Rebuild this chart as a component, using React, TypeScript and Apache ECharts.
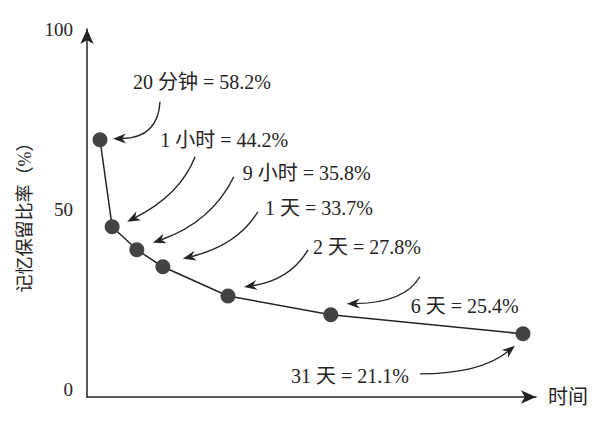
import { useEffect, useRef } from 'react'
import * as echarts from 'echarts'

const timeLabels = ['20 分钟', '1 小时', '9 小时', '1 天', '2 天', '6 天', '31 天']
const retentionLabels = ['58.2%', '44.2%', '35.8%', '33.7%', '27.8%', '25.4%', '21.1%']
// where each point sits on the (unscaled) time axis, as drawn
const timePos = [2.9, 5.6, 11.1, 16.9, 31.4, 54.3, 97.1]
// plotted heights as drawn (the figure is not to scale with its labels)
const plotted = [69.3, 45.2, 38.8, 34.1, 26.0, 20.8, 15.5]
const yTicks = [0, 50, 100]

const ink = '#262324'
const font = "'Liberation Serif', 'Noto Sans CJK SC', serif"

// callout layout, px offsets from each point: text anchor, arrow start, curve control, arrow tip
const callouts = [
  { text: [33, -58], align: 'left', start: [60, -38], ctrl: [58, -2], tip: [13, -1] },
  { text: [48, -87], align: 'left', start: [83, -70], ctrl: [68, -32], tip: [15, -5] },
  { text: [106, -77], align: 'left', start: [97, -73], ctrl: [75, -28], tip: [16, -7] },
  { text: [102, -59], align: 'left', start: [95, -55], ctrl: [75, -22], tip: [20, -8] },
  { text: [85, -49], align: 'left', start: [80, -46], ctrl: [62, -16], tip: [16, -9] },
  { text: [80, -9], align: 'left', start: [89, -38], ctrl: [74, -12], tip: [16, -11] },
  { text: [-114, 42], align: 'right', start: [-103, 40], ctrl: [-43, 40], tip: [-8, 12] }
]

function renderCallout(params: any, api: any) {
  const i = params.dataIndex
  const [px, py] = api.coord([api.value(0), api.value(1)])
  const c = callouts[i]
  const sx = px + c.start[0]
  const sy = py + c.start[1]
  const cx = px + c.ctrl[0]
  const cy = py + c.ctrl[1]
  const tx = px + c.tip[0]
  const ty = py + c.tip[1]
  const len = Math.hypot(tx - cx, ty - cy)
  const ux = (tx - cx) / len
  const uy = (ty - cy) / len
  const nx = -uy
  const ny = ux
  const L = 13
  const W = 5
  const N = 4
  const ex = tx - ux * (L - N)
  const ey = ty - uy * (L - N)
  return {
    type: 'group',
    children: [
      {
        type: 'bezierCurve',
        shape: { x1: sx, y1: sy, x2: ex, y2: ey, cpx1: cx, cpy1: cy },
        style: { stroke: ink, lineWidth: 1.4, fill: null }
      },
      {
        type: 'polygon',
        shape: {
          points: [
            [tx, ty],
            [tx - ux * L + nx * W, ty - uy * L + ny * W],
            [ex, ey],
            [tx - ux * L - nx * W, ty - uy * L - ny * W]
          ]
        },
        style: { fill: ink }
      },
      {
        type: 'text',
        x: px + c.text[0],
        y: py + c.text[1],
        style: {
          text: `${timeLabels[i]} = ${retentionLabels[i]}`,
          fill: ink,
          fontSize: 20,
          fontFamily: font,
          align: c.align,
          verticalAlign: 'middle'
        }
      }
    ]
  }
}

function App() {
  const chartRef = useRef<HTMLDivElement>(null)

  useEffect(() => {
    if (!chartRef.current) return
    const chart = echarts.init(chartRef.current, null, { renderer: 'svg' })
    const points = timePos.map((t, i) => [t, plotted[i]])

    chart.setOption({
      animation: false,
      backgroundColor: '#fff',
      grid: { left: 87, right: 61, top: 29, bottom: 24 },
      xAxis: {
        type: 'value',
        min: 0,
        max: 100,
        name: '时间',
        nameLocation: 'end',
        nameGap: 12,
        nameTextStyle: { color: ink, fontSize: 20, fontFamily: font },
        axisLine: {
          onZero: false,
          symbol: ['none', 'arrow'],
          symbolSize: [10, 15],
          lineStyle: { color: ink, width: 1.5 }
        },
        axisTick: { show: false },
        axisLabel: { show: false },
        splitLine: { show: false }
      },
      yAxis: {
        type: 'value',
        min: -2,
        max: 100,
        name: '记忆保留比率（%）',
        nameLocation: 'middle',
        nameGap: 52,
        nameTextStyle: { color: ink, fontSize: 18, fontFamily: font },
        axisLine: {
          show: true,
          symbol: ['none', 'arrow'],
          symbolSize: [10, 15],
          lineStyle: { color: ink, width: 1.5 }
        },
        axisTick: { show: false },
        axisLabel: {
          customValues: yTicks,
          margin: 14,
          color: ink,
          fontSize: 19,
          fontFamily: font
        },
        splitLine: { show: false }
      },
      series: [
        {
          type: 'line',
          data: points,
          symbol: 'circle',
          symbolSize: 15,
          itemStyle: { color: '#434345' },
          lineStyle: { color: ink, width: 1.5 },
          z: 3
        },
        {
          type: 'custom',
          data: points,
          renderItem: renderCallout,
          z: 4
        }
      ]
    })

    return () => {
      chart.dispose()
    }
  }, [])

  return (
    <div
      ref={chartRef}
      style={{ position: 'fixed', left: 0, top: 0, width: 597, height: 421 }}
    />
  )
}

export default App
